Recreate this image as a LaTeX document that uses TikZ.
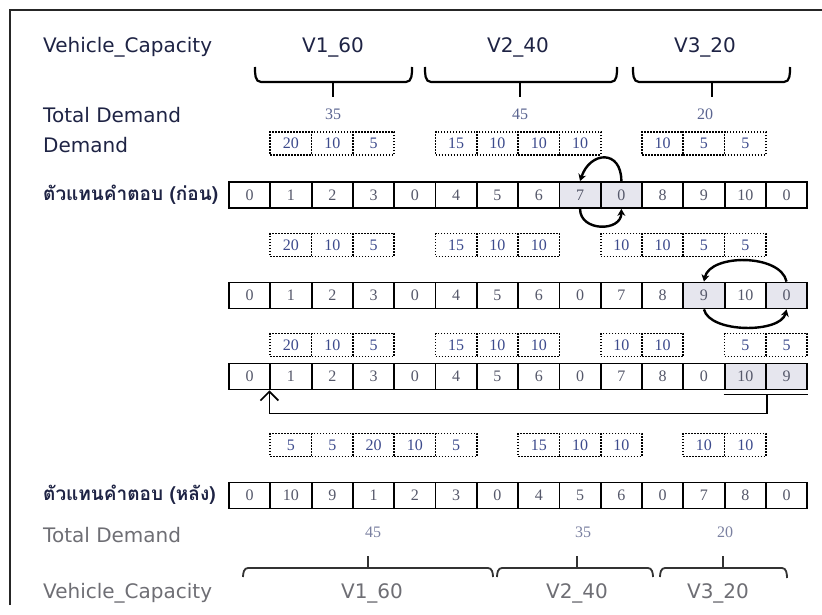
\documentclass[tikz,border=0pt]{standalone}
\usepackage{fontspec}
\setmainfont{DejaVu Sans}
\newfontfamily\labfont{DejaVu Sans}
\newfontfamily\numfont{Liberation Serif}
\newfontfamily\thaifont[Script=Thai]{Loma}
\usetikzlibrary{arrows.meta}
\definecolor{navy}{HTML}{1E2344}
\definecolor{cellgray}{HTML}{55586A}
\definecolor{dblue}{HTML}{3C4A8C}
\definecolor{tdblue}{HTML}{5A6490}
\definecolor{shadec}{HTML}{E6E6EE}
\definecolor{lgray}{HTML}{6E6E74}
\definecolor{lblue}{HTML}{7A80A0}
\tikzset{
  cell/.style={draw=black, line width=1.8pt, minimum width=41.3pt, minimum height=26pt,
    inner sep=0pt, font=\numfont\fontsize{16pt}{16pt}\selectfont, text=cellgray},
  dbox/.style={draw=black, line width=1.7pt, dash pattern=on 1.5pt off 1.5pt,
    minimum width=41.3pt, minimum height=23pt, inner sep=0pt,
    font=\numfont\fontsize{16pt}{16pt}\selectfont, text=dblue},
  lab/.style={anchor=west, inner sep=0pt, font=\labfont\fontsize{20pt}{20pt}\selectfont, text=navy},
  vlab/.style={inner sep=0pt, font=\labfont\fontsize{20pt}{20pt}\selectfont, text=navy},
  thlab/.style={anchor=west, inner sep=0pt, font=\thaifont\bfseries\fontsize{19pt}{19pt}\selectfont, text=navy},
  tdnum/.style={inner sep=0pt, font=\numfont\fontsize{16pt}{16pt}\selectfont, text=tdblue},
  brace/.style={line width=2.2pt, black},
  bbrace/.style={line width=1.8pt, black!80},
  arc/.style={line width=2.4pt, -{Stealth[length=7pt,width=8pt]}},
}
\begin{document}
\begin{tikzpicture}[x=1pt,y=-1pt]
\useasboundingbox (0,0) rectangle (822,615);
% frame
\draw[line width=2pt, black!85] (10,605) -- (10,10) -- (822,10);

% top labels
\node[lab] (vc1) at (43,47) {Vehicle\_Capacity};
\node[vlab] (v1t) at (333,47) {V1\_60};
\node[vlab] (v2t) at (518,47) {V2\_40};
\node[vlab] (v3t) at (705,47) {V3\_20};
% top braces
\draw[brace] (255,67) to[out=-90,in=180] (261,82) -- (406,82) to[out=0,in=-90] (412,67);
\draw[brace] (333,82) -- (333,97);
\draw[brace] (425,67) to[out=-90,in=180] (431,82) -- (611,82) to[out=0,in=-90] (617,67);
\draw[brace] (520,82) -- (520,97);
\draw[brace] (633,67) to[out=-90,in=180] (639,82) -- (784,82) to[out=0,in=-90] (790,67);
\draw[brace] (712,82) -- (712,97);

\node[lab] (tdt) at (43,115) {Total Demand};
\node[tdnum] (td1) at (333,114) {35};
\node[tdnum] (td2) at (520,114) {45};
\node[tdnum] (td3) at (705,114) {20};
\node[lab] (dem) at (43,145) {Demand};

% demand row a
\foreach \v/\c in {20/1,10/2,5/3,15/5,10/6,10/7,10/8,10/10,5/11,5/12}
  \node[dbox] (da\c) at ({249.65+41.3*\c},143.5) {\v};

% row 1
\node[thlab] (th1) at (43,195) {ตัวแทนคำตอบ (ก่อน)};
\foreach \v/\f [count=\i from 0] in {0/white,1/white,2/white,3/white,0/white,4/white,5/white,6/white,7/shadec,0/shadec,8/white,9/white,10/white,0/white}
  \node[cell, fill=\f] (ra\i) at ({249.65+41.3*\i},195) {\v};
\draw[arc] (ra9.north) .. controls +(0,-32) and +(10,-30) .. (ra8.north);
\draw[arc] (ra8.south) .. controls +(0,23) and +(0,23) .. (ra9.south);

% demand row b
\foreach \v/\c in {20/1,10/2,5/3,15/5,10/6,10/7,10/9,10/10,5/11,5/12}
  \node[dbox] (db\c) at ({249.65+41.3*\c},245) {\v};

% row 2
\foreach \v/\f [count=\i from 0] in {0/white,1/white,2/white,3/white,0/white,4/white,5/white,6/white,0/white,7/white,8/white,9/shadec,10/white,0/shadec}
  \node[cell, fill=\f] (rb\i) at ({249.65+41.3*\i},295.5) {\v};
\draw[arc] (rb13.north) .. controls +(-6,-28) and +(6,-28) .. (rb11.north);
\draw[arc] (rb11.south) .. controls +(6,24) and +(-6,24) .. (rb13.south);

% demand row c
\foreach \v/\c in {20/1,10/2,5/3,15/5,10/6,10/7,10/9,10/10,5/12,5/13}
  \node[dbox] (dc\c) at ({249.65+41.3*\c},345) {\v};

% row 3
\foreach \v/\f [count=\i from 0] in {0/white,1/white,2/white,3/white,0/white,4/white,5/white,6/white,0/white,7/white,8/white,0/white,10/shadec,9/shadec}
  \node[cell, fill=\f] (rc\i) at ({249.65+41.3*\i},376.5) {\v};
\draw[line width=1.3pt] ([yshift=-4pt]rc12.south west) -- ([yshift=-4pt]rc13.south east);
\coordinate (rcm) at ([yshift=-4pt]rc12.south east);
\coordinate (rcl) at ([yshift=-23pt]rc1.south west);
\draw[line width=1.8pt, -{Straight Barb[length=9pt,width=18pt,line width=1.6pt]}]
  (rcm) |- (rcl) -- (rc1.south west);

% demand row d
\foreach \v/\c in {5/1,5/2,20/3,10/4,5/5,15/7,10/8,10/9,10/11,10/12}
  \node[dbox] (dd\c) at ({249.65+41.3*\c},445) {\v};

% row 4
\node[thlab] (th2) at (43,495) {ตัวแทนคำตอบ (หลัง)};
\foreach \v [count=\i from 0] in {0,10,9,1,2,3,0,4,5,6,0,7,8,0}
  \node[cell, fill=white] (rd\i) at ({249.65+41.3*\i},495.5) {\v};

% bottom labels
\node[lab, text=lgray] (tdb) at (43,535) {Total Demand};
\node[tdnum, text=lblue] (tb1) at (373,532) {45};
\node[tdnum, text=lblue] (tb2) at (583,532) {35};
\node[tdnum, text=lblue] (tb3) at (725,532) {20};

\draw[bbrace] (243,577) to[out=90,in=180] (248,568) -- (488,568) to[out=0,in=90] (493,577);
\draw[bbrace] (368,568) -- (368,556);
\draw[bbrace] (497,577) to[out=90,in=180] (502,568) -- (648,568) to[out=0,in=90] (653,577);
\draw[bbrace] (577,568) -- (577,556);
\draw[bbrace] (660,577) to[out=90,in=180] (665,568) -- (782,568) to[out=0,in=90] (787,578);
\draw[bbrace] (723,568) -- (723,556);

\node[lab, text=lgray] (vcb) at (43,593) {Vehicle\_Capacity};
\node[vlab, text=lgray] (v1b) at (372,593) {V1\_60};
\node[vlab, text=lgray] (v2b) at (577,593) {V2\_40};
\node[vlab, text=lgray] (v3b) at (718,593) {V3\_20};
\end{tikzpicture}
\end{document}
